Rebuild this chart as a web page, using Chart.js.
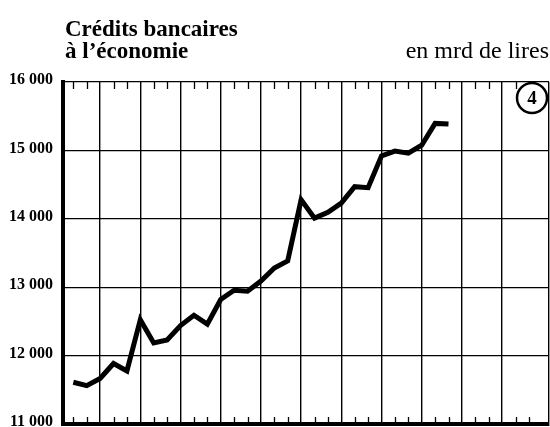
<!DOCTYPE html>
<html>
<head>
<meta charset="utf-8">
<script src="https://cdn.jsdelivr.net/npm/chart.js@4"></script>
<style>
  html, body { margin: 0; padding: 0; background: #fff; }
  #wrap { width: 550px; height: 427px; }
</style>
</head>
<body>
<div id="wrap"><canvas id="credits"></canvas></div>
<script>
// month index (0 = first plotted month)
const months = [0, 1, 2, 3, 4, 5, 6, 7, 8, 9, 10, 11, 12, 13, 14, 15, 16, 17, 18, 19, 20, 21, 22, 23, 24, 25, 26, 27, 28];
// bank credit to the economy, billion lire
const credits = [11610, 11560, 11665, 11885, 11775, 12525, 12185, 12230, 12440, 12590, 12460, 12820, 12955,
  12940, 13090, 13280, 13385, 14280, 14010, 14095, 14230, 14470, 14455, 14920, 14990, 14960, 15075, 15395, 15385];
// y axis ticks
const yTicks = [11000, 12000, 13000, 14000, 15000, 16000];
// quarters: full grid lines
const quarterMonths = [2, 5, 8, 11, 14, 17, 20, 23, 26, 29, 32];

const titleLines = ['Crédits bancaires', 'à l\u2019économie'];
const unitText = 'en mrd de lires';
const panelNo = '4';

const xMin = -0.77, xMax = 35.5;

// short month ticks along top and bottom, titles and panel number
const decor = {
  id: 'decor',
  afterDraw(chart) {
    const ctx = chart.ctx;
    const area = chart.chartArea;
    const x = chart.scales.x;
    ctx.save();
    ctx.strokeStyle = '#000';
    ctx.lineWidth = 1.3;
    for (let m = 0; m <= 35; m++) {
      if ((m + 1) % 3 === 0) continue;
      const px = Math.round(x.getPixelForValue(m)) + 0.5;
      ctx.beginPath();
      ctx.moveTo(px, area.top);
      ctx.lineTo(px, area.top + 7);
      ctx.moveTo(px, area.bottom);
      ctx.lineTo(px, area.bottom - 7);
      ctx.stroke();
    }

    // panel number
    const cx = area.right - 17, cy = area.top + 16;
    ctx.beginPath();
    ctx.arc(cx, cy, 15, 0, Math.PI * 2);
    ctx.fillStyle = '#fff';
    ctx.fill();
    ctx.lineWidth = 2.5;
    ctx.stroke();
    ctx.fillStyle = '#000';
    ctx.font = 'bold 19px "Liberation Serif"';
    ctx.textAlign = 'center';
    ctx.textBaseline = 'middle';
    ctx.fillText(panelNo, cx, cy + 1);

    // titles
    ctx.textBaseline = 'alphabetic';
    ctx.textAlign = 'left';
    ctx.font = 'bold 23px "Liberation Serif"';
    ctx.fillText(titleLines[0], area.left + 2, 36);
    ctx.fillText(titleLines[1], area.left + 2, 58);
    ctx.textAlign = 'right';
    ctx.font = '24px "Liberation Serif"';
    ctx.fillText(unitText, area.right, 58);
    ctx.restore();
  }
};

const chartCredits = new Chart(document.getElementById('credits').getContext('2d'), {
  type: 'line',
  data: {
    datasets: [{
      data: months.map((m, i) => ({ x: m, y: credits[i] })),
      borderColor: '#000',
      borderWidth: 5,
      borderJoinStyle: 'miter',
      borderCapStyle: 'butt',
      pointRadius: 0,
      tension: 0,
      fill: false
    }]
  },
  options: {
    responsive: true,
    maintainAspectRatio: false,
    animation: false,
    layout: { padding: { top: 82, bottom: 3, left: 0, right: 1 } },
    plugins: {
      legend: { display: false },
      tooltip: { enabled: false }
    },
    scales: {
      x: {
        type: 'linear',
        min: xMin,
        max: xMax,
        afterBuildTicks: scale => {
          scale.ticks = quarterMonths.concat([xMax]).map(v => ({ value: v }));
        },
        afterFit: scale => {
          scale.height = 0;
          scale.paddingLeft = 0;
          scale.paddingRight = 0;
        },
        ticks: { display: false },
        grid: { color: '#000', lineWidth: 1.4, drawTicks: false },
        border: { display: true, color: '#000', width: 4 }
      },
      y: {
        min: 11000,
        max: 16000,
        afterBuildTicks: scale => {
          scale.ticks = yTicks.map(v => ({ value: v }));
        },
        afterFit: scale => {
          scale.width = 63;
          scale.paddingTop = 0;
          scale.paddingBottom = 0;
        },
        ticks: {
          color: '#000',
          padding: 10,
          labelOffset: -2,
          font: { family: 'Liberation Serif', size: 16, weight: 'bold' },
          callback: v => Math.floor(v / 1000) + ' 000'
        },
        grid: { color: '#000', lineWidth: 1.3, drawTicks: false },
        border: { display: true, color: '#000', width: 4 }
      }
    }
  },
  plugins: [decor]
});
</script>
</body>
</html>
